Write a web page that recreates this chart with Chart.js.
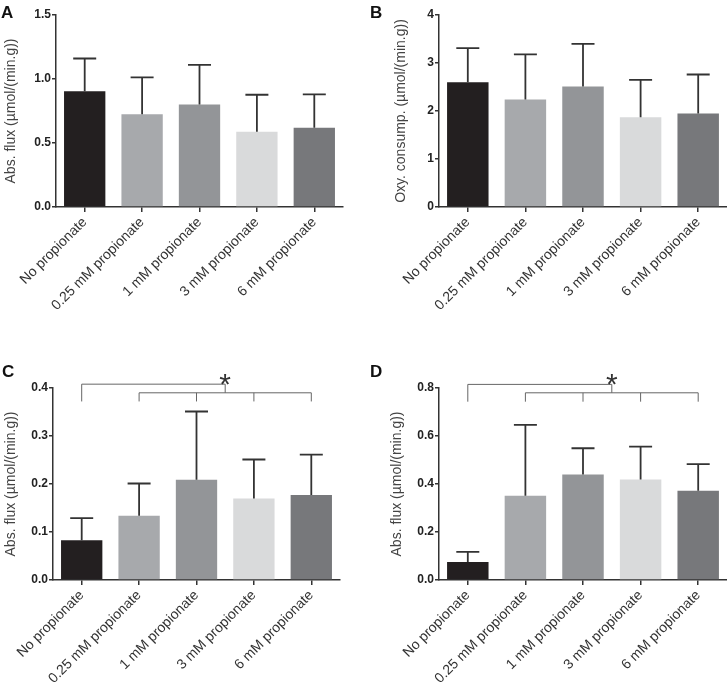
<!DOCTYPE html>
<html>
<head>
<meta charset="utf-8">
<script src="https://cdn.jsdelivr.net/npm/chart.js@4.4.1/dist/chart.umd.min.js"></script>
<style>
  html, body { margin: 0; padding: 0; background: #fff; overflow: hidden; width: 727px; height: 683px; }
  body { position: relative; }
  canvas { position: absolute; }
  .letter { position: absolute; font: bold 17px 'Liberation Sans', Arial, sans-serif; line-height: 17px; color: #111; }
</style>
</head>
<body>
<canvas id="chartA" width="363" height="340" style="left:0;top:0"></canvas>
<canvas id="chartB" width="380" height="340" style="left:363px;top:0"></canvas>
<canvas id="chartC" width="363" height="343" style="left:0;top:340px"></canvas>
<canvas id="chartD" width="380" height="343" style="left:363px;top:340px"></canvas>
<div class="letter" style="left:1px;top:4px">A</div>
<div class="letter" style="left:370px;top:4px">B</div>
<div class="letter" style="left:2px;top:363px">C</div>
<div class="letter" style="left:370px;top:363px">D</div>
<script>
// Groups (same for all four panels)
const groups = ['No propionate', '0.25 mM propionate', '1 mM propionate', '3 mM propionate', '6 mM propionate'];
const barColors = ['#231f20', '#a7a9ac', '#939598', '#d9dadb', '#77787b'];

// Panel A - abs. flux
const meanA = [0.905, 0.724, 0.80, 0.588, 0.62];
const sdA = [0.255, 0.289, 0.31, 0.289, 0.26];
// Panel B - oxygen consumption
const meanB = [2.60, 2.24, 2.51, 1.87, 1.95];
const sdB = [0.71, 0.94, 0.89, 0.78, 0.81];
// Panel C - abs. flux
const meanC = [0.083, 0.134, 0.209, 0.170, 0.177];
const sdC = [0.046, 0.067, 0.142, 0.081, 0.084];
// Panel D - abs. flux
const meanD = [0.075, 0.351, 0.440, 0.419, 0.372];
const sdD = [0.042, 0.295, 0.109, 0.137, 0.111];

// significance brackets: [top line, second line, tick ends, asterisk]
const sigC = [0.408, 0.390, 0.372, 0.423];
const sigD = [0.815, 0.780, 0.743, 0.845];

const FONT = "'Liberation Sans', Arial, sans-serif";

function errorBarPlugin(sd) {
  return {
    id: 'errorBars',
    afterDatasetsDraw(chart) {
      const ctx = chart.ctx;
      const y = chart.scales.y;
      const values = chart.data.datasets[0].data;
      ctx.save();
      ctx.strokeStyle = '#333';
      ctx.lineWidth = 1.8;
      chart.getDatasetMeta(0).data.forEach(function (bar, i) {
        const y0 = y.getPixelForValue(values[i]);
        const y1 = y.getPixelForValue(values[i] + sd[i]);
        ctx.beginPath();
        ctx.moveTo(bar.x, y0);
        ctx.lineTo(bar.x, y1);
        ctx.moveTo(bar.x - 11.5, y1);
        ctx.lineTo(bar.x + 11.5, y1);
        ctx.stroke();
      });
      ctx.restore();
    }
  };
}

function bracketPlugin(levels) {
  return {
    id: 'bracket',
    afterDraw(chart) {
      const ctx = chart.ctx;
      const x = chart.scales.x, y = chart.scales.y;
      const top = y.getPixelForValue(levels[0]);
      const mid = y.getPixelForValue(levels[1]);
      const foot = y.getPixelForValue(levels[2]);
      const star = y.getPixelForValue(levels[3]);
      const cx = (i) => x.getPixelForValue(i);
      const split = (cx(2) + cx(3)) / 2;
      ctx.save();
      ctx.strokeStyle = '#666';
      ctx.lineWidth = 1;
      ctx.beginPath();
      ctx.moveTo(cx(0), foot);
      ctx.lineTo(cx(0), top);
      ctx.lineTo(split, top);
      ctx.lineTo(split, mid);
      ctx.moveTo(cx(1), mid);
      ctx.lineTo(cx(4), mid);
      for (let i = 1; i <= 4; i++) {
        ctx.moveTo(cx(i), mid);
        ctx.lineTo(cx(i), foot);
      }
      ctx.stroke();
      ctx.fillStyle = '#333';
      ctx.font = '30px ' + FONT;
      ctx.textAlign = 'center';
      ctx.textBaseline = 'alphabetic';
      ctx.fillText('*', split, star + 17);
      ctx.restore();
    }
  };
}

function makeChart(id, opts) {
  const plugins = [errorBarPlugin(opts.sd)];
  if (opts.sig) plugins.push(bracketPlugin(opts.sig));
  return new Chart(document.getElementById(id), {
    type: 'bar',
    data: {
      labels: groups,
      datasets: [{
        data: opts.mean,
        backgroundColor: barColors,
        borderWidth: 0,
        categoryPercentage: 1,
        barPercentage: 0.72
      }]
    },
    plugins: plugins,
    options: {
      responsive: false,
      animation: false,
      layout: { padding: { left: 0, top: opts.padTop, right: opts.padRight, bottom: 0 } },
      plugins: { legend: { display: false }, tooltip: { enabled: false } },
      scales: {
        x: {
          afterFit: function (scale) { scale.height = opts.xHeight; },
          grid: { offset: false, drawOnChartArea: false, tickLength: 5, color: '#333', lineWidth: 1.5 },
          border: { color: '#333', width: 1.5 },
          ticks: {
            autoSkip: false, minRotation: 45, maxRotation: 45, padding: 2,
            color: '#333', font: { family: FONT, size: 14 }
          }
        },
        y: {
          min: 0,
          max: opts.max,
          afterFit: function (scale) { scale.width = opts.yWidth; },
          grid: { drawOnChartArea: false, tickLength: 4, color: '#333', lineWidth: 1.5 },
          border: { color: '#333', width: 1.5 },
          ticks: {
            stepSize: opts.step, padding: 1, color: '#222',
            font: { family: FONT, size: 12, weight: 'bold' },
            callback: function (v) { return opts.decimals ? v.toFixed(1) : String(v); }
          },
          title: {
            display: true, text: opts.title, color: '#444',
            font: { family: FONT, size: 14 },
            padding: { top: opts.titlePad, bottom: 0 }
          }
        }
      }
    }
  });
}

makeChart('chartA', { mean: meanA, sd: sdA, max: 1.5, step: 0.5, decimals: true,
  title: 'Abs. flux (µmol/(min.g))', yWidth: 56, titlePad: 3, padTop: 15, padRight: 20, xHeight: 133 });
makeChart('chartB', { mean: meanB, sd: sdB, max: 4, step: 1, decimals: false,
  title: 'Oxy. consump. (µmol/(min.g))', yWidth: 76, titlePad: 30, padTop: 15, padRight: 16, xHeight: 133 });
makeChart('chartC', { mean: meanC, sd: sdC, sig: sigC, max: 0.4, step: 0.1, decimals: true,
  title: 'Abs. flux (µmol/(min.g))', yWidth: 53, titlePad: 3, padTop: 48, padRight: 23, xHeight: 103 });
makeChart('chartD', { mean: meanD, sd: sdD, sig: sigD, max: 0.8, step: 0.2, decimals: true,
  title: 'Abs. flux (µmol/(min.g))', yWidth: 76, titlePad: 26, padTop: 48, padRight: 16, xHeight: 103 });
</script>
</body>
</html>
